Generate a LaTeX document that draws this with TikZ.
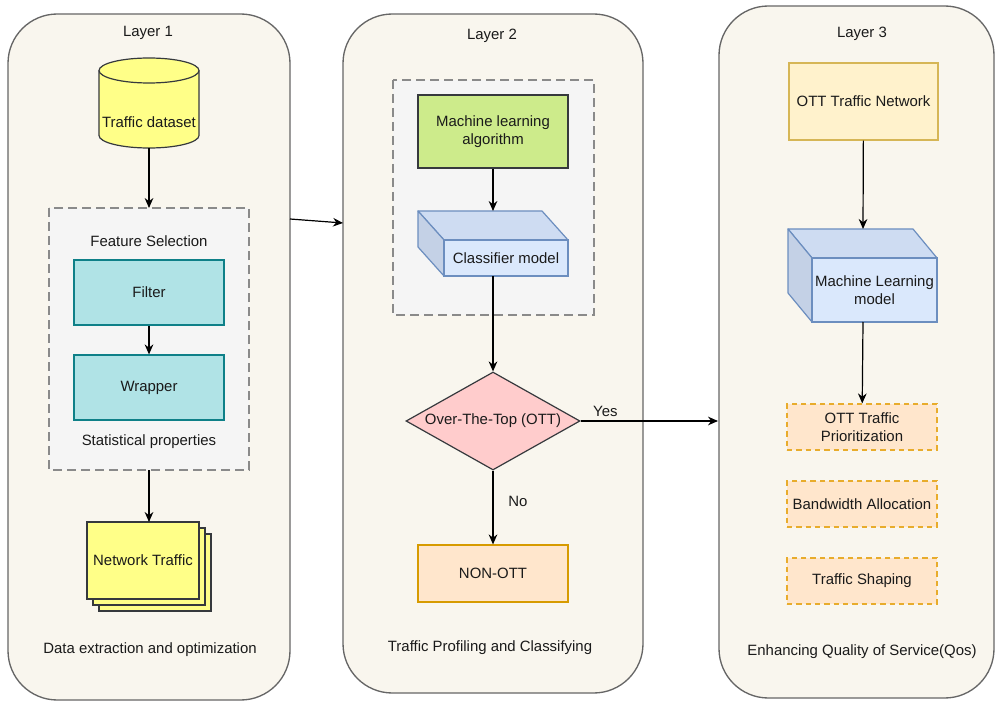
\documentclass[tikz,border=0pt]{standalone}
\usepackage{fontspec}
\setmainfont{Liberation Sans}
\usetikzlibrary{shapes.geometric,arrows.meta}
\definecolor{panelfill}{HTML}{F9F6EE}
\definecolor{panelline}{HTML}{666666}
\definecolor{grpfill}{HTML}{F5F5F5}
\definecolor{grpline}{HTML}{8A8A8A}
\definecolor{tealfill}{HTML}{B0E3E6}
\definecolor{tealline}{HTML}{0E8088}
\definecolor{yelfill}{HTML}{FFFF88}
\definecolor{darkline}{HTML}{36393D}
\definecolor{greenfill}{HTML}{CDEB8B}
\definecolor{cubefront}{HTML}{DAE8FC}
\definecolor{cubetop}{HTML}{CEDCF2}
\definecolor{cubeside}{HTML}{C4D1E6}
\definecolor{cubeline}{HTML}{6C8EBF}
\definecolor{pinkfill}{HTML}{FFCCCC}
\definecolor{orfill}{HTML}{FFE6CC}
\definecolor{orline}{HTML}{D79B00}
\definecolor{ordash}{HTML}{E8AC2C}
\definecolor{lyfill}{HTML}{FFF2CC}
\definecolor{lyline}{HTML}{D6B656}
\definecolor{txt}{HTML}{1A1A1A}
\begin{document}
\begin{tikzpicture}[x=0.75pt,y=-0.75pt,
  every node/.style={font=\fontsize{11.2}{13.5}\selectfont, text=txt, align=center},
  panel/.style={draw=panelline, fill=panelfill, line width=1pt, rounded corners=37pt},
  grp/.style={draw=grpline, fill=grpfill, line width=0.9pt, dash pattern=on 6.5pt off 4pt},
  boxA/.style={draw, rectangle, minimum width=112.5pt, inner sep=0pt, line width=0.9pt},
  flow/.style={draw=black, line width=0.9pt, -{Stealth[length=7.5pt,width=6.5pt]}},
  lbl/.style={inner sep=1pt}
]
\useasboundingbox (0,0) rectangle (995,702);
\fill[white] (0,0) rectangle (995,702);

% panels
\draw[panel] (8,14) rectangle (290,700);
\draw[panel] (343,14) rectangle (643,693);
\draw[panel] (719,6) rectangle (994,698);

\node (t1) at (148,33) {Layer 1};
\node (t2) at (492,36) {Layer 2};
\node (t3) at (862,34) {Layer 3};

% ---------------- Layer 1
\filldraw[fill=yelfill, draw=darkline, line width=0.9pt]
  (99,70.5) -- (99,135.5) arc (180:0:50 and 12.5) -- (199,70.5) arc (0:-180:50 and 12.5) -- cycle;
\draw[darkline, line width=0.9pt] (99,70.5) arc (180:0:50 and 12.5);
\node (ds) at (149,122) {Traffic dataset};
\coordinate (dsb) at (149,148);

\draw[grp] (49,208) rectangle (249,470);
\coordinate (fsT) at (149,208);
\coordinate (fsB) at (149,470);
\node (fs) at (149,241) {Feature Selection};
\node[boxA, fill=tealfill, draw=tealline, minimum height=48.75pt] (filter) at (149,292.5) {Filter};
\node[boxA, fill=tealfill, draw=tealline, minimum height=48.75pt] (wrap) at (149,387.5) {Wrapper};
\node (stat) at (149,442) {Statistical properties};

\draw[flow] (dsb) -- (fsT);
\draw[flow] (filter) -- (wrap);

\filldraw[fill=yelfill, draw=darkline, line width=0.9pt] (99,534) rectangle (211,611);
\filldraw[fill=yelfill, draw=darkline, line width=0.9pt] (93,528) rectangle (205,605);
\node[draw=darkline, fill=yelfill, line width=0.9pt, minimum width=84pt, minimum height=57.75pt, inner sep=0pt] (nt) at (143,560.5) {\raisebox{-2pt}{Network Traffic}};
\coordinate (ntT) at (149,522);
\draw[flow] (fsB) -- (ntT);

\node (d1) at (150,650) {Data extraction and optimization};

% ---------------- Layer 2
\draw[grp] (393,80) rectangle (594,315);
\node[boxA, fill=greenfill, draw=darkline, minimum height=54.75pt] (mla) at (493,131.5) {Machine learning\\algorithm};

% classifier cube
\filldraw[fill=cubetop, draw=cubeline, line width=0.9pt, line join=round]
  (418,211) -- (542,211) -- (568,240) -- (444,240) -- cycle;
\filldraw[fill=cubeside, draw=cubeline, line width=0.9pt, line join=round]
  (418,211) -- (444,240) -- (444,276) -- (418,247) -- cycle;
\node[draw=cubeline, fill=cubefront, line width=0.9pt, minimum width=93pt, minimum height=27pt, inner sep=0pt] (cls) at (506,258) {Classifier model};
\coordinate (clsT) at (493,211);
\coordinate (clsB) at (493,276);
\draw[flow] (mla) -- (clsT);

\node[diamond, draw=darkline, fill=pinkfill, line width=0.9pt, minimum width=130.5pt, minimum height=73.5pt, inner sep=0pt, aspect=1.78] (ott) at (493,421) {Over-The-Top (OTT)};
\draw[flow] (clsB) -- (ott.north);

\node[boxA, fill=orfill, draw=orline, minimum height=42.75pt] (non) at (493,573.5) {NON-OTT};
\draw[flow] (ott.south) -- node[lbl, right, pos=0.42, xshift=10pt] {No} (non);

\node (d2) at (490,648) {Traffic Profiling and Classifying};

% ---------------- Layer 3
\node[boxA, fill=lyfill, draw=lyline, minimum width=111.75pt, minimum height=57.75pt] (otn) at (863.5,101.5) {OTT Traffic Network};

\filldraw[fill=cubetop, draw=cubeline, line width=0.9pt, line join=round]
  (788,229) -- (913,229) -- (937,258) -- (812,258) -- cycle;
\filldraw[fill=cubeside, draw=cubeline, line width=0.9pt, line join=round]
  (788,229) -- (812,258) -- (812,322) -- (788,293) -- cycle;
\node[draw=cubeline, fill=cubefront, line width=0.9pt, minimum width=93.75pt, minimum height=48pt, inner sep=0pt] (mlm) at (874.5,290) {Machine Learning\\model};
\coordinate (mlmT) at (863,229);
\coordinate (mlmB) at (863,322);
\draw[flow] (otn) -- (mlmT);

\tikzset{odash/.style={boxA, fill=orfill, draw=ordash, dash pattern=on 4pt off 3pt, minimum height=34.5pt}}
\node[odash] (pri) at (862,427) {OTT Traffic\\Prioritization};
\node[odash] (bw) at (862,504) {Bandwidth Allocation};
\node[odash] (ts) at (862,581) {Traffic Shaping};
\draw[flow] (mlmB) -- (pri);

\node (d3) at (862,652) {Enhancing Quality of Service(Qos)};

% ---------------- cross-panel arrows
\coordinate (p1r) at (290,219);
\coordinate (p2l) at (343,223);
\draw[flow] (p1r) -- (p2l);
\coordinate (p3l) at (718,421);
\draw[flow] (ott.east) -- node[lbl, above, pos=0.18, yshift=2pt] {Yes} (p3l);
\end{tikzpicture}
\end{document}
